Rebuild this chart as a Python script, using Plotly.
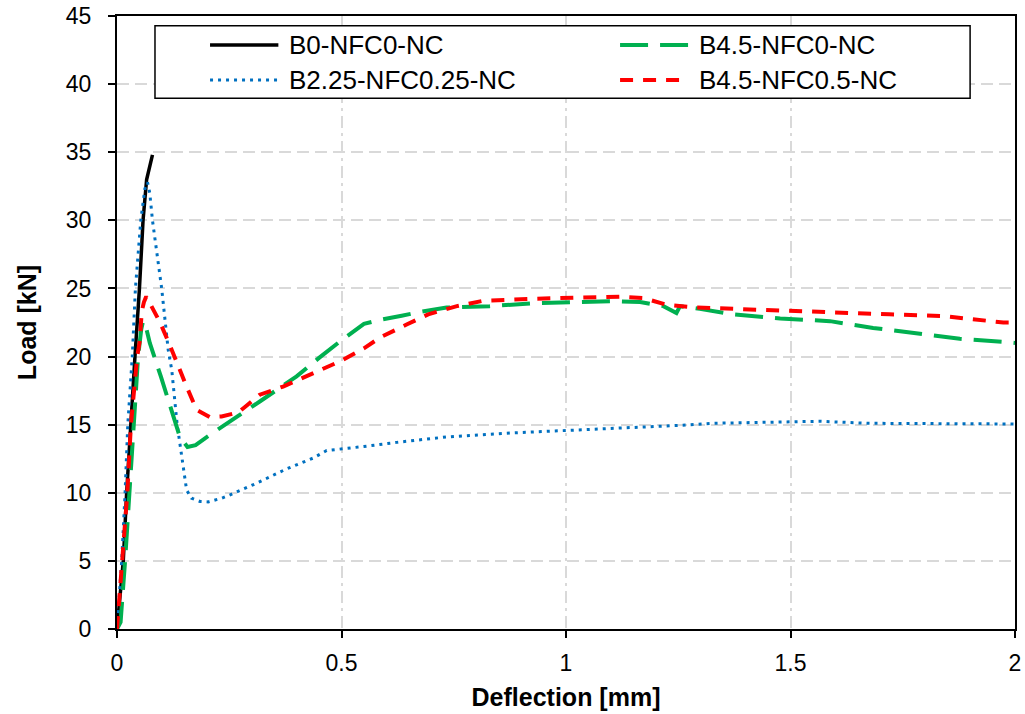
import plotly.graph_objects as go

# ---------------- data ----------------
series_names = ["B0-NFC0-NC", "B2.25-NFC0.25-NC", "B4.5-NFC0-NC", "B4.5-NFC0.5-NC"]

b0_x = [0, 0.014, 0.0215, 0.030, 0.040, 0.050, 0.058, 0.066, 0.070, 0.074, 0.079]
b0_y = [0, 5, 10, 15, 20, 25, 30, 33.0, 33.6, 34.2, 34.8]

b225_x = [0, 0.0105, 0.018, 0.024, 0.034, 0.041, 0.053, 0.062, 0.068, 0.073, 0.079, 0.0995,
          0.114, 0.122, 0.134, 0.144, 0.150, 0.155, 0.166, 0.185, 0.203, 0.233, 0.252, 0.311,
          0.374, 0.437, 0.467, 0.5, 0.55, 0.623, 0.734, 0.883, 1.0, 1.18, 1.254, 1.328, 1.4,
          1.5, 1.566, 1.67, 1.818, 2.0]
b225_y = [0, 5, 10, 15, 20, 25, 30, 32.3, 32.8, 32.0, 30, 25,
          20.5, 19.0, 15.0, 12.7, 11.0, 10.2, 9.6, 9.36, 9.33, 9.6, 9.85, 10.7,
          11.7, 12.55, 13.1, 13.2, 13.4, 13.7, 14.1, 14.4, 14.56, 14.8, 14.95, 15.1, 15.15,
          15.2, 15.25, 15.1, 15.1, 15.05]

b45_x = [0, 0.008, 0.018, 0.028, 0.036, 0.047, 0.054, 0.058, 0.062, 0.073, 0.098, 0.122,
         0.140, 0.157, 0.175, 0.196, 0.244, 0.27, 0.318, 0.40, 0.45, 0.5, 0.55, 0.586, 0.634,
         0.671, 0.734, 0.83, 0.92, 1.0, 1.105, 1.165, 1.217, 1.246, 1.254, 1.298, 1.372,
         1.477, 1.588, 1.684, 1.78, 1.877, 1.974, 2.0]
b45_y = [0, 0.5, 5, 10, 15, 20, 22.0, 22.6, 22.5, 21.0, 18.5, 16.0,
         14.1, 13.36, 13.5, 14.0, 15.1, 15.65, 16.7, 18.55, 19.9, 21.2, 22.4, 22.7, 23.0,
         23.25, 23.6, 23.7, 23.9, 24.0, 24.07, 24.0, 23.7, 23.2, 23.7, 23.5, 23.1,
         22.8, 22.6, 22.1, 21.7, 21.3, 21.08, 21.0]

b45n_x = [0, 0.0105, 0.023, 0.031, 0.045, 0.051, 0.055, 0.060, 0.065, 0.075, 0.096, 0.118,
          0.133, 0.155, 0.177, 0.207, 0.233, 0.27, 0.285, 0.318, 0.37, 0.43, 0.5, 0.55,
          0.586, 0.645, 0.693, 0.757, 0.816, 0.935, 1.0, 1.12, 1.172, 1.224, 1.29, 1.41,
          1.536, 1.72, 1.84, 1.907, 1.974, 2.0]
b45n_y = [0, 5, 10, 15, 20, 21.2, 23.3, 24.0, 24.4, 23.8, 22.5, 20.8,
          19.5, 17.8, 16.1, 15.55, 15.6, 15.9, 16.3, 17.2, 17.8, 18.7, 19.7, 20.6,
          21.4, 22.35, 23.1, 23.7, 24.1, 24.25, 24.3, 24.4, 24.3, 23.8, 23.6, 23.45,
          23.26, 23.1, 22.97, 22.7, 22.5, 22.5]

x_tickvals = [0, 0.5, 1, 1.5, 2]
x_ticktext = ["0", "0.5", "1", "1.5", "2"]
y_tickvals = [0, 5, 10, 15, 20, 25, 30, 35, 40, 45]

# ---------------- styles ----------------
FONT = "Liberation Sans, Arial, sans-serif"
styles = {
    "B0-NFC0-NC": dict(color="#000000", width=3.5, dash="solid"),
    "B2.25-NFC0.25-NC": dict(color="#0070C0", width=3, dash="3px,5px"),
    "B4.5-NFC0-NC": dict(color="#00B050", width=4, dash="28px,12px"),
    "B4.5-NFC0.5-NC": dict(color="#FF0000", width=4, dash="13px,10px"),
}
data = {
    "B0-NFC0-NC": (b0_x, b0_y),
    "B2.25-NFC0.25-NC": (b225_x, b225_y),
    "B4.5-NFC0-NC": (b45_x, b45_y),
    "B4.5-NFC0.5-NC": (b45n_x, b45n_y),
}

fig = go.Figure()
for name in series_names:
    xs, ys = data[name]
    fig.add_trace(go.Scatter(x=xs, y=ys, mode="lines", name=name,
                             line=styles[name], showlegend=False))

# ---------------- manual legend (layout only) ----------------
legend_box = dict(x0=0.0423, x1=0.950, y0=0.866, y1=0.984)
legend_rows = [0.9527, 0.8956]
legend_cols = [(0.1036, 0.1797, 0.1890), (0.5602, 0.6370, 0.6459)]
legend_layout = [
    ("B0-NFC0-NC", 0, 0), ("B4.5-NFC0-NC", 1, 0),
    ("B2.25-NFC0.25-NC", 0, 1), ("B4.5-NFC0.5-NC", 1, 1),
]
shapes = [dict(type="rect", xref="paper", yref="paper", **legend_box,
               line=dict(color="#000000", width=1.5), fillcolor="white", layer="above")]
annotations = []
for name, c, r in legend_layout:
    sx0, sx1, tx = legend_cols[c]
    yy = legend_rows[r]
    st = styles[name]
    shapes.append(dict(type="line", xref="paper", yref="paper", x0=sx0, x1=sx1, y0=yy, y1=yy,
                       line=dict(color=st["color"], width=st["width"], dash=st["dash"]),
                       layer="above"))
    annotations.append(dict(text=name, xref="paper", yref="paper", x=tx, y=yy,
                            xanchor="left", yanchor="middle", showarrow=False,
                            font=dict(family=FONT, size=26, color="#000000")))

axis_common = dict(
    showline=True, linecolor="#000000", linewidth=2, mirror=True,
    ticks="outside", ticklen=7, tickwidth=2, tickcolor="#000000",
    showgrid=True, gridcolor="#D9D9D9", gridwidth=1.5, automargin=False,
    zeroline=False, tickfont=dict(family=FONT, size=23, color="#000000"),
)

fig.update_layout(
    width=1025, height=714,
    margin=dict(l=117, r=10, t=16, b=85),
    paper_bgcolor="white", plot_bgcolor="white",
    font=dict(family=FONT, color="#000000"),
    shapes=shapes, annotations=annotations,
    xaxis=dict(range=[0, 2], tickvals=x_tickvals, ticktext=x_ticktext,
               griddash="12px,5px,3px,5px", ticklabelstandoff=5,
               title=dict(text="<b>Deflection [mm]</b>", standoff=14,
                          font=dict(family=FONT, size=25, color="#000000")),
               **axis_common),
    yaxis=dict(range=[0, 45], tickvals=y_tickvals, griddash="12px,6px",
               ticklabelstandoff=12,
               title=dict(text="<b>Load [kN]</b>", standoff=22,
                          font=dict(family=FONT, size=25, color="#000000")),
               **axis_common),
)

fig.write_html(
    "out.html",
    config={"displayModeBar": False},
    post_script="document.body.style.margin='0px';document.body.style.overflow='hidden';",
)
